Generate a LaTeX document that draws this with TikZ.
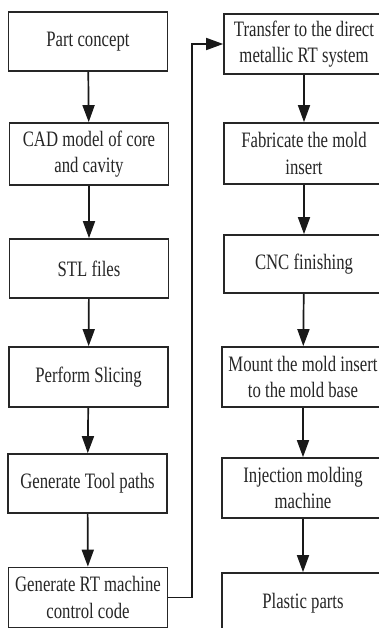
\documentclass[tikz,border=0pt]{standalone}
\usepackage{fontspec}
\setmainfont[FakeStretch=0.76]{Liberation Serif}
\usetikzlibrary{arrows.meta}
\begin{document}
\begin{tikzpicture}[x=1pt,y=-1pt,
  stepbox/.style={draw=black!85, line width=1.7pt, minimum width=159pt, minimum height=60pt,
    align=center, inner sep=0pt, font=\fontsize{22}{26.5}\selectfont, text=black!85},
  flow/.style={draw=black!90, line width=1.7pt, -{Triangle[width=12pt,length=17pt]}}]
\useasboundingbox (0,0) rectangle (379,628);
\clip (0,0) rectangle (379,628);
\fill[white] (0,0) rectangle (379,628);
% left column
\node[stepbox, minimum height=59pt] (a1) at (88,41.5) {Part concept};
\node[stepbox, minimum height=62pt] (a2) at (89,154) {CAD model of core\\and cavity};
\node[stepbox, minimum height=59pt] (a3) at (89,268.5) {STL files};
\node[stepbox] (a4) at (88.5,377) {Perform Slicing};
\node[stepbox, minimum height=59pt] (a5) at (87.5,483.5) {Generate Tool paths};
\node[stepbox] (a6) at (88,597.5) {Generate RT machine\\control code};
% right column
\node[stepbox, minimum width=160pt] (b1) at (304,44) {Transfer to the direct\\metallic RT system};
\node[stepbox, minimum width=160pt, minimum height=61pt] (b2) at (304,153.5) {Fabricate the mold\\insert};
\node[stepbox, minimum width=160pt, minimum height=58pt] (b3) at (304,264) {CNC finishing};
\node[stepbox, minimum width=162pt] (b4) at (303,377) {Mount the mold insert\\to the mold base};
\node[stepbox, minimum width=162pt] (b5) at (303,488) {Injection molding\\machine};
\node[stepbox, minimum width=162pt] (b6) at (303,603) {Plastic parts};
% arrows
\draw[flow] (a1) -- (a2);
\draw[flow] (a2) -- (a3);
\draw[flow] (a3) -- (a4);
\draw[flow] (a4) -- (a5);
\draw[flow] (a5) -- (a6);
\coordinate (turn) at (192,597.5);
\draw[flow] (a6.east) -- (turn) |- (b1.west);
\draw[flow] (b1) -- (b2);
\draw[flow] (b2) -- (b3);
\draw[flow] (b3) -- (b4);
\draw[flow] (b4) -- (b5);
\draw[flow] (b5) -- (b6);
\end{tikzpicture}
\end{document}
